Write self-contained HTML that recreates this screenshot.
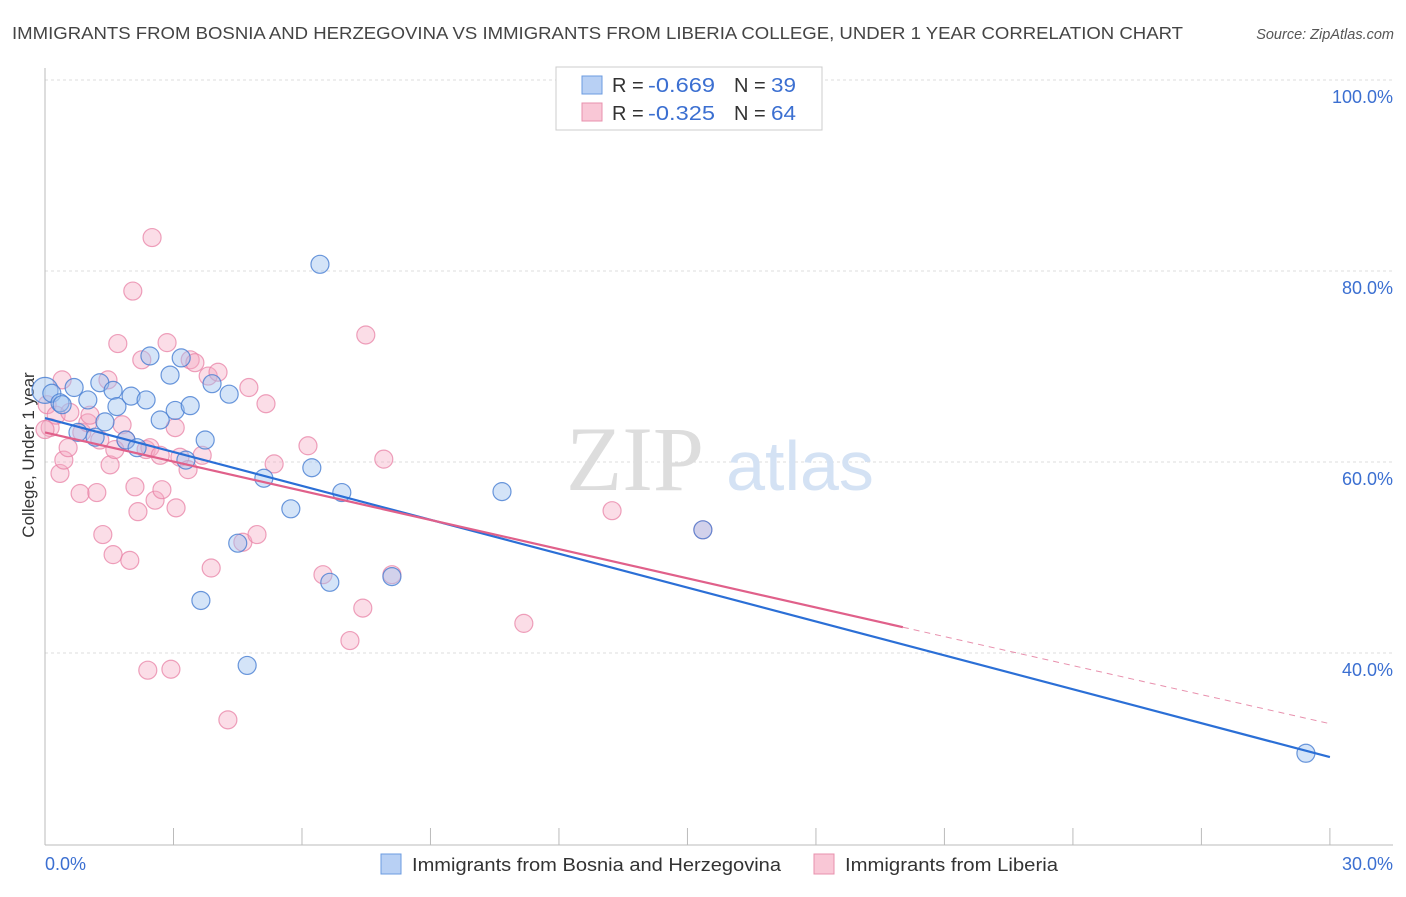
<!DOCTYPE html>
<html><head><meta charset="utf-8"><style>
body{margin:0;background:#fff;font-family:"Liberation Sans",sans-serif}
</style></head><body>
<svg width="1406" height="892" viewBox="0 0 1406 892" xmlns="http://www.w3.org/2000/svg" font-family="Liberation Sans, sans-serif">
<text x="12" y="39" font-size="17.5" fill="#444" textLength="1171" lengthAdjust="spacingAndGlyphs">IMMIGRANTS FROM BOSNIA AND HERZEGOVINA VS IMMIGRANTS FROM LIBERIA COLLEGE, UNDER 1 YEAR CORRELATION CHART</text>
<text x="1394" y="39" font-size="14.5" fill="#555" font-style="italic" text-anchor="end">Source: ZipAtlas.com</text>
<g id="grid"></g>
<g>
<text x="635" y="490" font-size="92" fill="#ddd" font-family="Liberation Serif, serif" text-anchor="middle">ZIP</text>
<text x="800" y="490" font-size="70" fill="#d4e2f4" text-anchor="middle">atlas</text>
</g>
<line x1="45" y1="68" x2="45" y2="845" stroke="#bbb"/>
<line x1="45" y1="845" x2="1393" y2="845" stroke="#bbb"/>
<g id="xticks"></g>
<g id="ylabels"></g>
<text x="45" y="870" font-size="18" fill="#3b6fd1">0.0%</text>
<text x="1393" y="870" font-size="18" fill="#3b6fd1" text-anchor="end">30.0%</text>
<text transform="translate(34,455) rotate(-90)" font-size="17" fill="#333" text-anchor="middle">College, Under 1 year</text>
<g id="pink"></g>
<g id="blue"></g>
<g id="lines"></g>
<g>
<rect x="556" y="67" width="266" height="63" fill="#fff" stroke="#ccc"/>
<rect x="582" y="76" width="20" height="18" fill="#b8d0f4" stroke="#6b9be0"/>
<rect x="582" y="103" width="20" height="18" fill="#f9c7d6" stroke="#e890ad"/>
<text x="612" y="92" font-size="20" fill="#333">R =</text>
<text x="648" y="92" font-size="20" fill="#3b6fd1" textLength="67" lengthAdjust="spacingAndGlyphs">-0.669</text>
<text x="734" y="92" font-size="20" fill="#333">N =</text>
<text x="771" y="92" font-size="20" fill="#3b6fd1" textLength="25" lengthAdjust="spacingAndGlyphs">39</text>
<text x="612" y="120" font-size="20" fill="#333">R =</text>
<text x="648" y="120" font-size="20" fill="#3b6fd1" textLength="67" lengthAdjust="spacingAndGlyphs">-0.325</text>
<text x="734" y="120" font-size="20" fill="#333">N =</text>
<text x="771" y="120" font-size="20" fill="#3b6fd1" textLength="25" lengthAdjust="spacingAndGlyphs">64</text>
</g>
<g>
<rect x="381" y="854" width="20" height="20" fill="#b8d0f4" stroke="#6b9be0"/>
<text x="412" y="871" font-size="18.5" fill="#333" textLength="369" lengthAdjust="spacingAndGlyphs">Immigrants from Bosnia and Herzegovina</text>
<rect x="814" y="854" width="20" height="20" fill="#f9c7d6" stroke="#e890ad"/>
<text x="845" y="871" font-size="18.5" fill="#333" textLength="213" lengthAdjust="spacingAndGlyphs">Immigrants from Liberia</text>
</g>
</svg>
<script>
const yTicks=[40,60,80,100];
const yTickLabels=["40.0%","60.0%","80.0%","100.0%"];
const xTicks=[0,3,6,9,12,15,18,21,24,27,30];
const blueX=[0,0.16,0.35,0.68,1.0,0.77,1.28,1.4,1.59,1.68,1.89,2.01,2.15,2.36,2.45,2.69,2.92,3.04,3.18,3.29,3.39,3.74,3.9,4.3,4.5,4.72,3.64,5.11,5.74,6.23,6.42,6.65,6.93,8.1,10.67,15.36,29.44,0.4,1.17];
const blueY=[67.5,67.2,66.2,67.8,66.5,63.1,68.3,64.2,67.5,65.8,62.3,66.9,61.5,66.5,71.1,64.4,69.1,65.4,70.9,60.2,65.9,62.3,68.2,67.1,51.5,38.7,45.5,58.3,55.1,59.4,80.7,47.4,56.8,48.0,56.9,52.9,29.5,66.0,62.6];
const pinkX=[0.05,0.12,0.26,0.35,0.44,0.54,0.58,0.82,0.86,1.0,1.21,1.28,1.35,1.47,1.52,1.59,1.7,1.8,1.89,1.98,2.05,2.1,2.17,2.26,2.36,2.45,2.5,2.57,2.69,2.73,2.85,2.94,3.06,3.15,3.34,3.39,3.5,3.67,3.81,3.88,4.04,4.27,4.62,4.76,4.95,5.16,5.35,6.14,6.49,7.12,7.42,7.49,7.91,8.1,11.18,13.24,15.36,2.4,1.05,0.4,0,1.63,3.04];
const pinkY=[66.0,63.6,64.9,58.8,60.2,61.5,65.2,56.7,63.1,64.1,56.8,62.3,52.4,68.6,59.7,50.3,72.4,63.9,62.3,49.7,77.9,57.4,54.8,70.7,61.3,61.5,83.5,56.0,60.7,57.1,72.5,38.3,55.2,60.5,59.2,70.7,70.4,60.7,69.0,48.9,69.4,33.0,51.6,67.8,52.4,66.1,59.8,61.7,48.2,41.3,44.7,73.3,60.3,48.2,43.1,54.9,52.9,38.2,64.9,68.6,63.4,61.3,63.6];
const blueTrendX=[0,30];
const blueTrendY=[64.6,29.1];
const pinkTrendX=[0,20.03,30];
const pinkTrendY=[63.1,42.7,32.6];
const NS="http://www.w3.org/2000/svg";
const sx=v=>45+v*42.83;
const sy=v=>1035-v*9.55;
function mk(tag,attrs,parent){const e=document.createElementNS(NS,tag);for(const k in attrs)e.setAttribute(k,attrs[k]);document.getElementById(parent).appendChild(e);return e;}
yTicks.forEach((t,i)=>{
 const g=mk('line',{x1:45,x2:1393,y1:sy(t),y2:sy(t),stroke:'#ddd','stroke-dasharray':'3,3'},'grid');
 
 
 const l=mk('text',{x:1393,y:sy(t)+23,'font-size':18,fill:'#3b6fd1','text-anchor':'end'},'ylabels');
 l.textContent=yTickLabels[i];
 
 
});
xTicks.forEach(t=>{
 const e=mk('line',{x1:sx(t),x2:sx(t),y1:828,y2:845,stroke:'#bbb'},'xticks');
 
 
});
pinkX.forEach((x,i)=>{
 const c=mk('circle',{cx:sx(x),cy:sy(pinkY[i]),r:9,fill:'rgba(246,170,195,0.4)',stroke:'rgba(232,130,165,0.75)','stroke-width':1.2},'pink');
 
 
});
blueX.forEach((x,i)=>{
 const c=mk('circle',{cx:sx(x),cy:sy(blueY[i]),r:i===0?13:9,fill:'rgba(160,195,240,0.45)',stroke:'rgba(70,125,210,0.8)','stroke-width':1.2},'blue');
 
 
});
const bl=mk('line',{x1:sx(blueTrendX[0]),y1:sy(blueTrendY[0]),x2:sx(blueTrendX[1]),y2:sy(blueTrendY[1]),stroke:'#2b6fd6','stroke-width':2.2},'lines');


const pl=mk('line',{x1:sx(pinkTrendX[0]),y1:sy(pinkTrendY[0]),x2:sx(pinkTrendX[1]),y2:sy(pinkTrendY[1]),stroke:'#e0608a','stroke-width':2.2},'lines');


const pd=mk('line',{x1:sx(pinkTrendX[1]),y1:sy(pinkTrendY[1]),x2:sx(pinkTrendX[2]),y2:sy(pinkTrendY[2]),stroke:'#e890ad','stroke-width':1,'stroke-dasharray':'6,5'},'lines');


</script>
</body></html>
